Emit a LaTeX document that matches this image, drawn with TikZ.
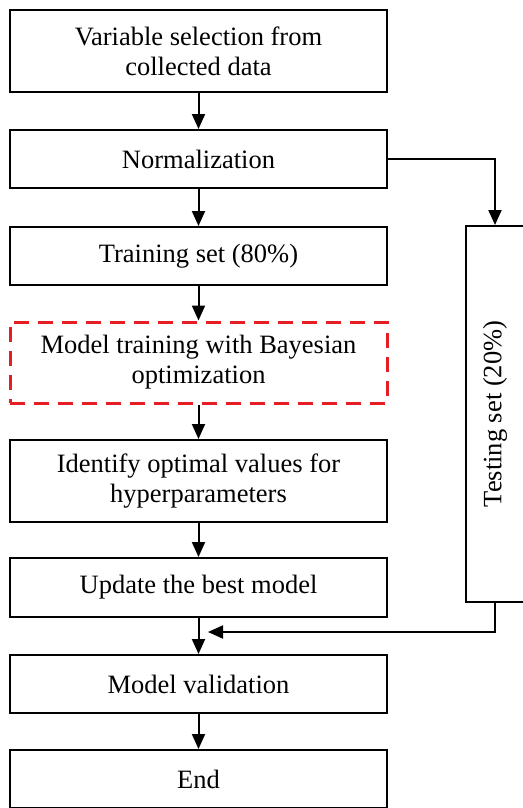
\documentclass[tikz,border=0pt]{standalone}
\usepackage{fontspec}
\setmainfont{Liberation Serif}
\usetikzlibrary{arrows.meta}
\definecolor{dashred}{RGB}{228,30,36}
\begin{document}
\begin{tikzpicture}[x=1pt,y=-1pt,
  box/.style={draw, line width=2pt, minimum width=377pt, align=center,
    font=\fontsize{26.5}{30}\selectfont, inner sep=0pt},
  dbox/.style={box, draw=dashred, line width=3pt, dash pattern=on 15pt off 9pt},
  conn/.style={line width=2pt, -{Triangle[length=15pt,width=13pt]}}
]
\useasboundingbox (0,0) rectangle (522,808);
\node[box, minimum height=82pt] (b1) at (198.5,51) {Variable selection from\\collected data};
\node[box, minimum height=58pt] (b2) at (198.5,159) {Normalization};
\node[box, minimum height=58pt] (b3) at (198.5,256) {Training set (80\%)};
\node[dbox, minimum height=81pt] (b4) at (198.5,362.5) {Model training with Bayesian\\optimization};
\node[box, minimum height=82pt] (b5) at (198.5,481) {Identify optimal values for\\hyperparameters};
\node[box, minimum height=59pt] (b6) at (198.5,587.5) {Update the best model};
\node[box, minimum height=58pt] (b7) at (198.5,684) {Model validation};
\node[box, minimum height=58pt] (b8) at (198.5,779) {End};
\node[box, minimum width=58pt, minimum height=376pt] (t) at (495,414)
  {\rotatebox{90}{Testing set (20\%)}};
\coordinate (m) at (208,632);
\draw[conn] (b1) -- (b2);
\draw[conn] (b2) -- (b3);
\draw[conn] (b3) -- (b4);
\draw[conn] (b4) -- (b5);
\draw[conn] (b5) -- (b6);
\draw[conn] (b6) -- (b7);
\draw[conn] (b7) -- (b8);
\draw[conn] (b2.east) -| (t.north);
\draw[conn] (t.south) |- (m);
\end{tikzpicture}
\end{document}
